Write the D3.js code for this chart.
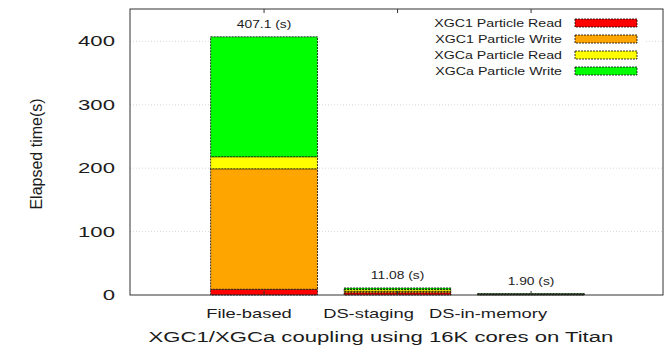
<!DOCTYPE html>
<html>
<head>
<meta charset="utf-8">
<script src="https://cdn.jsdelivr.net/npm/d3@7"></script>
<style>
  body { margin: 0; background: #fff; }
  text { font-family: "Liberation Sans", Arial, sans-serif; fill: #1c1c1c; }
</style>
</head>
<body>
<script>
// data
const methods = ["File-based", "DS-staging", "DS-in-memory"];
const phases = ["XGC1 Particle Read", "XGC1 Particle Write", "XGCa Particle Read", "XGCa Particle Write"];
const xgc1Read  = [9.0, 3.5, 0.5];
const xgc1Write = [190.0, 2.5, 0.5];
const xgcaRead  = [19.0, 3.0, 0.45];
const xgcaWrite = [189.1, 2.08, 0.45];
const totalLabels = ["407.1 (s)", "11.08 (s)", "1.90 (s)"];
const yTicks = [0, 100, 200, 300, 400];

const colors = ["#ff0000", "#ffa500", "#ffff00", "#00ff00"];

const W = 668, H = 349;
const pLeft = 130, pRight = 663, pTop = 9, pBottom = 295;

const rows = methods.map((m, i) => ({
    method: m,
    [phases[0]]: xgc1Read[i],
    [phases[1]]: xgc1Write[i],
    [phases[2]]: xgcaRead[i],
    [phases[3]]: xgcaWrite[i]
}));
const series = d3.stack().keys(phases)(rows);

const svg = d3.select("body").append("svg")
    .attr("width", W)
    .attr("height", H);

const y = d3.scaleLinear().domain([0, 451]).range([pBottom, pTop]);
const x = d3.scaleBand()
    .domain(methods)
    .range([197.3, 597.8])
    .paddingInner(0.2)
    .paddingOuter(0.1);
// the category labels sit left of the bar centres in the original
const xl = d3.scalePoint().domain(methods).range([249, 488]);

// stretch text horizontally, the original font is wide
function stretch(sel, k) {
    sel.each(function () {
        const n = this.getComputedTextLength();
        d3.select(this).attr("textLength", n * k).attr("lengthAdjust", "spacingAndGlyphs");
    });
}

// grid
svg.append("g")
    .selectAll("line")
    .data(yTicks.slice(1))
    .join("line")
    .attr("x1", pLeft).attr("x2", pRight)
    .attr("y1", d => y(d)).attr("y2", d => y(d))
    .attr("stroke", "#d8d8d8")
    .attr("stroke-dasharray", "1,2");

// y tick labels
const yt = svg.append("g")
    .selectAll("text")
    .data(yTicks)
    .join("text")
    .attr("x", 115)
    .attr("y", d => y(d) + 5)
    .attr("text-anchor", "end")
    .style("font-size", "14px")
    .text(d => d);
stretch(yt, 1.58);

// bars
svg.append("g")
    .selectAll("g")
    .data(series)
    .join("g")
    .attr("fill", (d, i) => colors[i])
    .selectAll("rect")
    .data(d => d)
    .join("rect")
    .attr("x", d => x(d.data.method))
    .attr("y", d => y(d[1]))
    .attr("width", x.bandwidth())
    .attr("height", d => y(d[0]) - y(d[1]))
    .attr("stroke", "#000")
    .attr("stroke-width", 0.8)
    .attr("stroke-dasharray", "2,1");

// totals over bars
const totals = methods.map((m, i) => xgc1Read[i] + xgc1Write[i] + xgcaRead[i] + xgcaWrite[i]);
const tl = svg.append("g")
    .selectAll("text")
    .data(methods)
    .join("text")
    .attr("x", d => x(d) + x.bandwidth() / 2)
    .attr("y", (d, i) => y(totals[i]) - 9)
    .attr("text-anchor", "middle")
    .style("font-size", "10px")
    .text((d, i) => totalLabels[i]);
stretch(tl, 1.38);

// legend box
svg.append("rect")
    .attr("x", 320).attr("y", 10)
    .attr("width", 325).attr("height", 78)
    .attr("fill", "#fff");

const lg = svg.append("g")
    .selectAll("g")
    .data(phases)
    .join("g")
    .attr("transform", (d, i) => `translate(0, ${27 + i * 16})`);
lg.append("rect")
    .attr("x", 575).attr("y", -8)
    .attr("width", 62).attr("height", 8)
    .attr("fill", (d, i) => colors[i])
    .attr("stroke", "#000")
    .attr("stroke-width", 0.8)
    .attr("stroke-dasharray", "2,1");
const lt = lg.append("text")
    .attr("x", 562).attr("y", 0)
    .attr("text-anchor", "end")
    .style("font-size", "11px")
    .text(d => d);
stretch(lt, 1.29);

// frame
svg.append("rect")
    .attr("x", pLeft).attr("y", pTop)
    .attr("width", pRight - pLeft).attr("height", pBottom - pTop)
    .attr("fill", "none")
    .attr("stroke", "#333")
    .attr("stroke-width", 1);

// ticks at bar centres, top and bottom
const tk = svg.append("g").selectAll("g").data(methods).join("g");
tk.append("line")
    .attr("x1", d => x(d) + x.bandwidth() / 2).attr("x2", d => x(d) + x.bandwidth() / 2)
    .attr("y1", pTop).attr("y2", pTop + 4)
    .attr("stroke", "#333");
tk.append("line")
    .attr("x1", d => x(d) + x.bandwidth() / 2).attr("x2", d => x(d) + x.bandwidth() / 2)
    .attr("y1", pBottom).attr("y2", pBottom - 4)
    .attr("stroke", "#333");

// category labels
const cl = svg.append("g")
    .selectAll("text")
    .data(methods)
    .join("text")
    .attr("x", d => xl(d))
    .attr("y", 318)
    .attr("text-anchor", "middle")
    .style("font-size", "13px")
    .text(d => d);
stretch(cl, 1.41);

// axis titles
const xt = svg.append("text")
    .attr("x", 381)
    .attr("y", 342)
    .attr("text-anchor", "middle")
    .style("font-size", "14px")
    .text("XGC1/XGCa coupling using 16K cores on Titan");
stretch(xt, 1.58);

svg.append("text")
    .attr("transform", "translate(42, 154) rotate(-90)")
    .attr("text-anchor", "middle")
    .style("font-size", "16px")
    .text("Elapsed time(s)");
</script>
</body>
</html>
